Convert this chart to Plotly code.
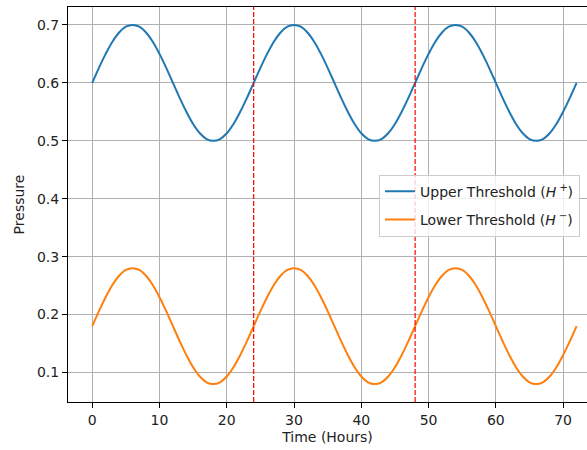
import plotly.graph_objects as go

# Hourly time axis (hours 0..72)
hours = list(range(73))

# Upper pressure threshold H+ sampled hourly
upper_threshold = [
    0.600, 0.626, 0.650, 0.671, 0.687, 0.697, 0.700, 0.697, 0.687, 0.671, 0.650, 0.626,
    0.600, 0.574, 0.550, 0.529, 0.513, 0.503, 0.500, 0.503, 0.513, 0.529, 0.550, 0.574,
    0.600, 0.626, 0.650, 0.671, 0.687, 0.697, 0.700, 0.697, 0.687, 0.671, 0.650, 0.626,
    0.600, 0.574, 0.550, 0.529, 0.513, 0.503, 0.500, 0.503, 0.513, 0.529, 0.550, 0.574,
    0.600, 0.626, 0.650, 0.671, 0.687, 0.697, 0.700, 0.697, 0.687, 0.671, 0.650, 0.626,
    0.600, 0.574, 0.550, 0.529, 0.513, 0.503, 0.500, 0.503, 0.513, 0.529, 0.550, 0.574,
    0.600,
]

# Lower pressure threshold H- sampled hourly
lower_threshold = [
    0.180, 0.206, 0.230, 0.251, 0.267, 0.277, 0.280, 0.277, 0.267, 0.251, 0.230, 0.206,
    0.180, 0.154, 0.130, 0.109, 0.093, 0.083, 0.080, 0.083, 0.093, 0.109, 0.130, 0.154,
    0.180, 0.206, 0.230, 0.251, 0.267, 0.277, 0.280, 0.277, 0.267, 0.251, 0.230, 0.206,
    0.180, 0.154, 0.130, 0.109, 0.093, 0.083, 0.080, 0.083, 0.093, 0.109, 0.130, 0.154,
    0.180, 0.206, 0.230, 0.251, 0.267, 0.277, 0.280, 0.277, 0.267, 0.251, 0.230, 0.206,
    0.180, 0.154, 0.130, 0.109, 0.093, 0.083, 0.080, 0.083, 0.093, 0.109, 0.130, 0.154,
    0.180,
]

# Day boundaries marked with dashed lines
day_boundaries = [24, 48]

x_ticks = [0, 10, 20, 30, 40, 50, 60, 70]
y_ticks = [0.1, 0.2, 0.3, 0.4, 0.5, 0.6, 0.7]

FONT = "DejaVu Sans"
FS = 14

fig = go.Figure()
fig.add_trace(go.Scatter(
    x=hours, y=upper_threshold, mode="lines", line=dict(color="#1f77b4", width=2, shape="spline"),
    name="Upper Threshold (<i>H</i><sup> +</sup>)", legendgroup="upper",
))
fig.add_trace(go.Scatter(
    x=hours, y=lower_threshold, mode="lines", line=dict(color="#ff7f0e", width=2, shape="spline"),
    name="Lower Threshold (<i>H</i><sup> −</sup>)", legendgroup="lower",
))

for b in day_boundaries:
    fig.add_vline(x=b, line=dict(color="red", width=1.2, dash="5px,2px"))

axis_common = dict(
    showgrid=True, gridcolor="#b0b0b0", gridwidth=1,
    zeroline=False, showline=True, linecolor="black", linewidth=1,
    ticks="outside", ticklen=5, tickcolor="black", tickwidth=1,
    tickfont=dict(family=FONT, size=FS, color="#222"),
)

fig.update_xaxes(
    **axis_common, range=[-3.6, 73.55], tickvals=x_ticks, mirror=True,
    title=dict(text="Time (Hours)", font=dict(family=FONT, size=FS, color="#222"), standoff=5),
)
fig.update_yaxes(
    **axis_common, range=[0.049, 0.731], tickvals=y_ticks, tickformat=".1f",
    title=dict(text="Pressure", font=dict(family=FONT, size=FS, color="#222"), standoff=9),
)

fig.update_layout(
    width=587, height=450,
    margin=dict(l=68, r=0, t=7, b=48),
    plot_bgcolor="white", paper_bgcolor="white",
    font=dict(family=FONT, size=FS, color="#222"),
    legend=dict(
        x=0.9865, y=0.497, xanchor="right", yanchor="middle",
        bgcolor="rgba(255,255,255,0.8)", bordercolor="#cccccc", borderwidth=1,
        font=dict(family=FONT, size=FS, color="#222"), tracegroupgap=7,
    ),
    showlegend=True,
)

fig.write_html("out.html")
